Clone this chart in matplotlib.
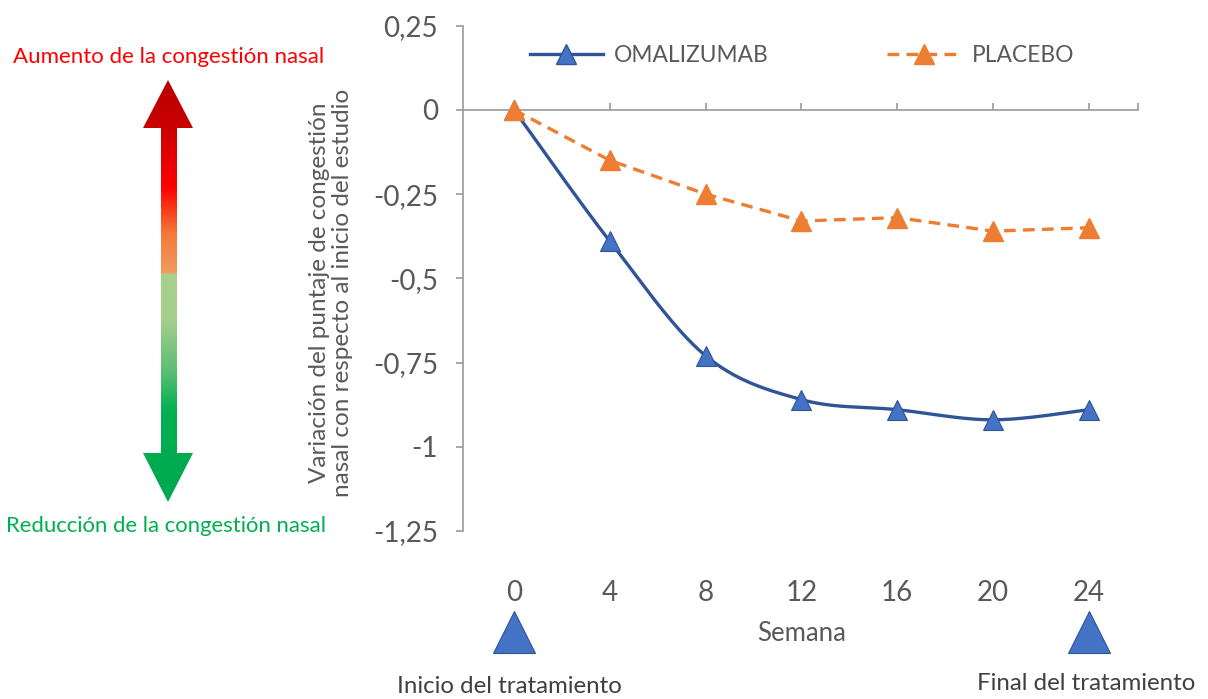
import matplotlib.pyplot as plt
import matplotlib.colors as mcolors
from matplotlib.patches import Polygon
import numpy as np

plt.rcParams['font.family'] = ['Lato', 'DejaVu Sans']
plt.rcParams['axes.unicode_minus'] = False

weeks = [0, 4, 8, 12, 16, 20, 24]
omalizumab = [0, -0.39, -0.73, -0.86, -0.89, -0.92, -0.89]
placebo = [0, -0.15, -0.25, -0.33, -0.32, -0.36, -0.35]
yticks = [0.25, 0, -0.25, -0.5, -0.75, -1, -1.25]
ytick_labels = ['0,25', '0', '-0,25', '-0,5', '-0,75', '-1', '-1,25']

BLUE_LINE = '#2F5597'
BLUE_FILL = '#4472C4'
ORANGE = '#ED7D31'
GRAY_TEXT = '#595959'
AXIS_GRAY = '#9A9A9A'


def smooth(xs, ys, n=40):
    # Catmull-Rom through the points, like a spreadsheet "smoothed line"
    p = np.column_stack([xs, ys]).astype(float)
    p = np.vstack([p[0], p, p[-1]])
    out = []
    t = np.linspace(0, 1, n)[:, None]
    for i in range(1, len(p) - 2):
        p0, p1, p2, p3 = p[i - 1], p[i], p[i + 1], p[i + 2]
        seg = 0.5 * ((2 * p1) + (-p0 + p2) * t + (2 * p0 - 5 * p1 + 4 * p2 - p3) * t ** 2
                     + (-p0 + 3 * p1 - 3 * p2 + p3) * t ** 3)
        out.append(seg if i == 1 else seg[1:])
    out = np.vstack(out)
    return out[:, 0], out[:, 1]


fig = plt.figure(figsize=(12.08, 6.99), dpi=100)

# left panel: gradient double arrow with captions, drawn in pixel space
bg = fig.add_axes([0, 0, 1, 1], zorder=0)
bg.set_xlim(0, 1208)
bg.set_ylim(699, 0)
bg.axis('off')

stops = [(80, '#B80000'), (130, '#CC0000'), (187, '#FF0000'), (233, '#F27A38'),
         (272, '#F39A62'), (274, '#A9D18E'), (318, '#A6CF8C'), (370, '#5DBE73'),
         (410, '#00B050'), (502, '#00A84F')]
rows = np.arange(78, 505)
sy = [s[0] for s in stops]
rgb = np.array([mcolors.to_rgb(s[1]) for s in stops])
grad = np.stack([np.interp(rows, sy, rgb[:, k]) for k in range(3)], axis=1)
grad = np.repeat(grad[:, None, :], 2, axis=1)
img = bg.imshow(grad, extent=[140, 196, 505, 78], aspect='auto', interpolation='bilinear')
arrow = Polygon([(168, 80), (193, 128), (177, 128), (177, 453), (193, 453), (168, 502),
                 (143, 453), (161, 453), (161, 128), (143, 128)], closed=True,
                facecolor='none', edgecolor='none', transform=bg.transData)
bg.add_patch(arrow)
img.set_clip_path(arrow)

bg.text(169, 57, 'Aumento de la congestión nasal', color='#FF0000', fontsize=16,
        ha='center', va='center')
bg.text(166, 526, 'Reducción de la congestión nasal', color='#00B050', fontsize=15.9,
        ha='center', va='center')

# main chart
ax = fig.add_axes([463 / 1208, 1 - 531 / 699, (1138 - 463) / 1208, (531 - 25.6) / 699], zorder=2)
ax.patch.set_alpha(0)

xs, ys = smooth(weeks, omalizumab)
ax.plot(xs, ys, color=BLUE_LINE, lw=2.4, zorder=3)
ax.plot(weeks, omalizumab, ls='none', marker='^', ms=14, mfc=BLUE_FILL, mec=BLUE_LINE,
        mew=0.8, zorder=4)
ax.plot(weeks, placebo, color=ORANGE, lw=2.4, ls=(0, (3.5, 2.2)), marker='^', ms=14,
        mfc=ORANGE, mec=ORANGE, zorder=5)

ax.set_xlim(-2.13, 26.05)
ax.set_ylim(-1.25, 0.25)

for side in ['top', 'right']:
    ax.spines[side].set_visible(False)
ax.spines['left'].set_color(AXIS_GRAY)
ax.spines['left'].set_linewidth(1.2)
ax.spines['bottom'].set_position(('data', 0))
ax.spines['bottom'].set_color(AXIS_GRAY)
ax.spines['bottom'].set_linewidth(1.2)

ax.set_yticks(yticks)
ax.set_yticklabels(ytick_labels)
ax.tick_params(axis='y', direction='out', length=5, width=1.2, color=AXIS_GRAY,
               labelcolor=GRAY_TEXT, labelsize=20, pad=13)
ax.set_xticks(weeks + [26.05])
ax.tick_params(axis='x', direction='in', length=5, width=1.2, color=AXIS_GRAY,
               labelbottom=False)

# week labels sit low, under the plotting area
xt = ax.get_xaxis_transform()
for w in weeks:
    ax.text(w, -0.123, str(w), transform=xt, ha='center', va='center', fontsize=20,
            color=GRAY_TEXT, clip_on=False)
ax.text(12, -0.202, 'Semana', transform=xt, ha='center', va='center', fontsize=18.5,
        color=GRAY_TEXT, clip_on=False)

# treatment start / end markers
ax.plot([weeks[0], weeks[-1]], [-0.2, -0.2], transform=xt, ls='none', marker='^', ms=30,
        mfc=BLUE_FILL, mec=BLUE_LINE, mew=0.8, clip_on=False)
ax.text(-0.2, -0.320, 'Inicio del tratamiento', transform=xt, ha='center', va='baseline',
        fontsize=17.3, color='#404040', clip_on=False)
ax.text(23.9, -0.315, 'Final del tratamiento', transform=xt, ha='center', va='baseline',
        fontsize=17.3, color='#404040', clip_on=False)

fig.text(331 / 1208, 1 - 293 / 699,
         'Variación del puntaje de congestión\nnasal con respecto al inicio del estudio',
         rotation=90, ha='center', va='center', fontsize=17.5, color=GRAY_TEXT,
         linespacing=1.1, multialignment='center')

# legend
h1 = plt.Line2D([], [], color=BLUE_LINE, lw=2.4, marker='^', ms=14, mfc=BLUE_FILL,
                mec=BLUE_LINE)
h2 = plt.Line2D([], [], color=ORANGE, lw=2.4, ls=(0, (3.5, 2.2)), marker='^', ms=14,
                mfc=ORANGE, mec=ORANGE)
fig.legend([h1, h2], ['OMALIZUMAB', 'PLACEBO'], loc='center left',
           bbox_to_anchor=(530 / 1208, 1 - 55 / 699), ncol=2, frameon=False,
           fontsize=16.4, handlelength=3.2, handletextpad=0.5, columnspacing=5.2,
           borderpad=0, borderaxespad=0, labelcolor=GRAY_TEXT)

fig.savefig('out.png', dpi=100)
